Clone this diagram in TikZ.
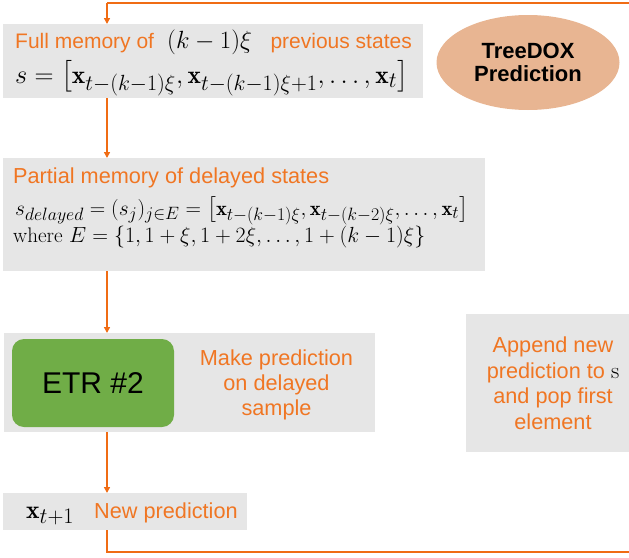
\documentclass[tikz,border=0pt]{standalone}
\usepackage{fontspec}
\usepackage{amsmath}
\usepackage{graphicx}
\usetikzlibrary{arrows.meta,shapes.geometric}
\newfontfamily\arial{Liberation Sans}
\DeclareMathSizes{20}{20}{16}{13}
\definecolor{lineorange}{RGB}{240,108,20}
\definecolor{txtorange}{RGB}{240,118,35}
\definecolor{boxgray}{RGB}{230,230,230}
\definecolor{etrgreen}{RGB}{112,173,71}
\definecolor{tan}{RGB}{232,181,146}
\begin{document}
\begin{tikzpicture}[x=1pt,y=-1pt,
  otext/.style={text=txtorange,font=\arial\fontsize{21.7}{25}\selectfont,inner sep=0pt},
  mtext/.style={inner sep=0pt,anchor=base west},
  flow/.style={draw=lineorange,line width=1.6pt,-{Triangle[width=6pt,length=6pt]}},
  plain/.style={draw=lineorange,line width=1.6pt}]
\useasboundingbox (0,0) rectangle (629,557);
% boxes
\fill[boxgray] (3,24) rectangle (423,98);
\fill[boxgray] (3,158) rectangle (485,271);
\fill[boxgray] (4,333) rectangle (375,432);
\fill[boxgray] (3,493) rectangle (247,530);
\fill[boxgray] (466,314) rectangle (629,452);
% box 1 text
\node[otext,anchor=base west,font=\arial\fontsize{21}{25}\selectfont] (t1) at (15,48) {Full memory of};
\node[mtext,font=\fontsize{28}{30}\selectfont] (t1m) at (167,48) {$(k-1)\xi$};
\node[otext,anchor=base east,font=\arial\fontsize{21}{25}\selectfont] (t1b) at (412,48) {previous states};
\node[mtext] (m1) at (15,83) {\resizebox{393pt}{!}{\fontsize{20}{24}\selectfont$s=\bigl[\mathbf{x}_{t-(k-1)\xi},\mathbf{x}_{t-(k-1)\xi+1},\ldots,\mathbf{x}_t\bigr]$}};
% ellipse
\node[ellipse,fill=tan,minimum width=183pt,minimum height=95pt,inner sep=0pt,
  font=\arial\bfseries\fontsize{22}{23.5}\selectfont,align=center] (tree) at (528,62.5) {TreeDOX\\Prediction};
% box 2 text
\node[otext,anchor=base west] (t2) at (13,183) {Partial memory of delayed states};
\node[mtext] (m2) at (15,215) {\resizebox{453pt}{!}{\fontsize{20}{24}\selectfont$s_{delayed}=(s_j)_{j\in E}=\bigl[\mathbf{x}_{t-(k-1)\xi},\mathbf{x}_{t-(k-2)\xi},\ldots,\mathbf{x}_t\bigr]$}};
\node[mtext] (m3) at (13,242) {\resizebox{412pt}{!}{\fontsize{20}{24}\selectfont$\mathrm{where}\ E=\{1,1+\xi,1+2\xi,\ldots,1+(k-1)\xi\}$}};
% box 3
\node[fill=etrgreen,rounded corners=12pt,minimum width=162pt,minimum height=88pt,inner sep=0pt,
  font=\arial\fontsize{30}{34}\selectfont] (etr) at (93,383) {ETR \#2};
\node[otext,align=center,font=\arial\fontsize{21.7}{25}\selectfont,anchor=base] (mk) at (276.5,415) {Make prediction\\on delayed\\sample};
% box 4
\node[mtext] (xn) at (26,518) {\resizebox{48pt}{!}{\fontsize{20}{24}\selectfont$\mathbf{x}_{t+1}$}};
\node[otext,anchor=base west] (np) at (94,518) {New prediction};
% right box
\node[otext,align=center,font=\arial\fontsize{21.7}{25.5}\selectfont,anchor=base] (ap) at (553,429) {Append new\\prediction to {\color{black}\fontsize{23}{25}\selectfont$\mathrm{s}$}\\and pop first\\element};
% connectors
\coordinate (tr) at (629,3);
\coordinate (tl) at (107,3);
\coordinate (br) at (629,552);
\coordinate (bl) at (107,552);
\draw[plain] (tr) -- (tl);
\draw[flow] (tl) -- (107,24);
\draw[flow] (107,98) -- (107,158);
\draw[flow] (107,271) -- (107,333);
\draw[flow] (107,432) -- (107,493);
\draw[plain] (107,530) -- (bl) -- (br);
\end{tikzpicture}
\end{document}
